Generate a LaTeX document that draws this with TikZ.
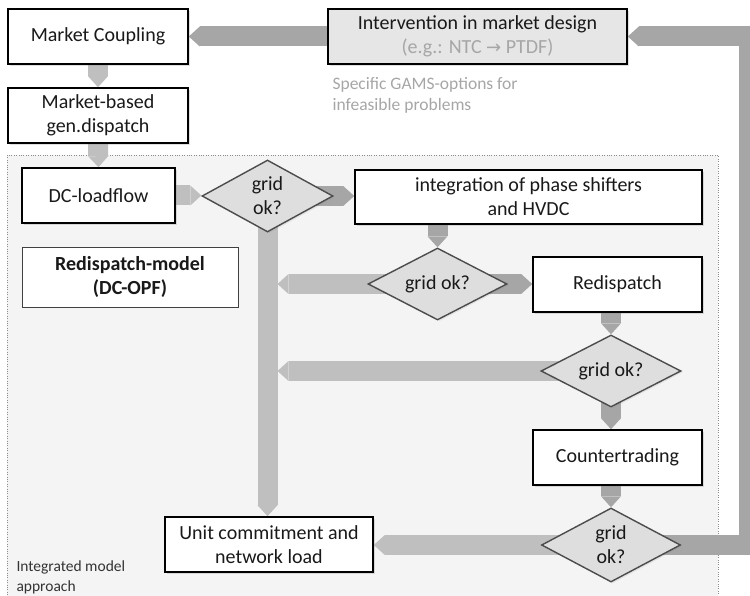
\documentclass[tikz,border=0pt]{standalone}
\usepackage{fontspec}
\setmainfont{Carlito}
\newfontfamily\arrowfont{DejaVu Sans}
\usetikzlibrary{shapes.geometric,arrows.meta,shadows,calc}
\definecolor{bandgray}{HTML}{A6A6A6}
\definecolor{lightband}{HTML}{BFBFBF}
\definecolor{notegray}{HTML}{A6A6A6}
\definecolor{panelgray}{HTML}{F4F4F4}
\definecolor{checkgray}{HTML}{DEDEDE}
\definecolor{boxgray}{HTML}{E6E6E6}
\pgfdeclarelayer{panel}
\pgfdeclarelayer{bands}
\pgfsetlayers{panel,bands,main}
\tikzset{
  plainbox/.style={draw=black, line width=1.6pt, fill=white, minimum height=55pt, align=center, text=black!90, font=\fontsize{20}{24}\selectfont},
  stepbox/.style={plainbox, drop shadow={shadow xshift=2pt, shadow yshift=-2pt, opacity=0.25}},
  check/.style={diamond, draw=black!70, line width=1.4pt, fill=checkgray, aspect=1.9, inner sep=1pt, minimum width=139pt, minimum height=72pt, align=center, text=black!90, font=\fontsize{20}{24}\selectfont, drop shadow={shadow xshift=1.5pt, shadow yshift=-1.5pt, opacity=0.15}},
  note/.style={align=left, text=notegray, font=\fontsize{17.5}{21}\selectfont},
  band/.style={line width=20pt, draw=bandgray, -{Triangle[length=11pt,width=20pt,line width=0pt]}},
  lband/.style={band, draw=lightband}
}
\begin{document}
\begin{tikzpicture}[x=1pt, y=-1pt]
\useasboundingbox (0,0) rectangle (750,596);
\node[stepbox, minimum width=180pt] (mc) at (98,36.5) {Market Coupling};
\node[stepbox, minimum width=180pt] (mb) at (98,115.5) {Market-based\\gen.dispatch};
\node[stepbox, fill=boxgray, minimum width=299pt] (interv) at (477.5,36.5) {Intervention in market design\\{\color{notegray}(e.g.: NTC {\arrowfont\fontsize{18}{24}\selectfont →} PTDF)}};
\node[note, anchor=north west] (hint) at (329,74) {Specific GAMS-options for\\infeasible problems};
\node[stepbox, minimum width=153pt] (dc) at (98.5,195.5) {DC-loadflow};
\node[check, minimum width=131pt] (d1) at (267.5,196) {grid\\ok?};
\node[stepbox, minimum width=347pt, minimum height=54pt] (integ) at (528.5,197) {integration of phase shifters\\and HVDC};
\node[plainbox, draw=black!75, line width=0.9pt, minimum width=216pt, minimum height=60pt, font=\fontsize{20}{24}\selectfont\bfseries] (model) at (130,277) {Redispatch-model\\(DC-OPF)};
\node[check] (d2) at (437.5,284) {grid ok?};
\node[stepbox, minimum width=169pt] (redisp) at (617.5,284.5) {Redispatch};
\node[check, minimum width=140pt] (d3) at (611,371) {grid ok?};
\node[stepbox, minimum width=169pt] (counter) at (617.5,457.5) {Countertrading};
\node[check, minimum height=74pt] (d4) at (611,545) {grid\\ok?};
\node[stepbox, minimum width=208pt] (uc) at (269,544.5) {Unit commitment and\\network load};
\coordinate (rc) at (749,0);
\begin{pgfonlayer}{panel}
\draw[dotted, draw=black!45, fill=panelgray] (7,155) rectangle (718,620);
\node[anchor=north west, align=left, text=black!80, font=\fontsize{15.5}{20}\selectfont] (scope) at (13,557) {Integrated model\\approach};
\end{pgfonlayer}
\begin{pgfonlayer}{bands}
\draw[band] (interv.west) -- (interv.west -| mc.east);
\draw[lband] (mc.south) -- (mb.north);
\draw[lband] (mb.south) -- (dc.north);
\draw[lband] (dc.east) -- (dc.east -| d1.west);
\draw[band] (d1.center) -- (d1 -| integ.west);
\draw[lband] (d1.center) -- (d1 |- uc.north);
\draw[band] (d2 |- integ.south) -- (d2.north);
\draw[band] (d2.center) -- (d2 -| redisp.west);
\draw[lband] (d2.center) -- ($(d2 -| d1)+(10,0)$);
\draw[band] (d3 |- redisp.south) -- (d3.north);
\draw[lband] (d3.center) -- ($(d3 -| d1)+(10,0)$);
\draw[band] (d3.center) -- (d3 |- counter.north);
\draw[band] (d4 |- counter.south) -- (d4.north);
\draw[lband] (d4.center) -- (d4 -| uc.east);
\draw[band] (d4.center) -- (d4 -| rc) -- (rc |- interv.east) -- (interv.east);
\end{pgfonlayer}
\end{tikzpicture}
\end{document}
